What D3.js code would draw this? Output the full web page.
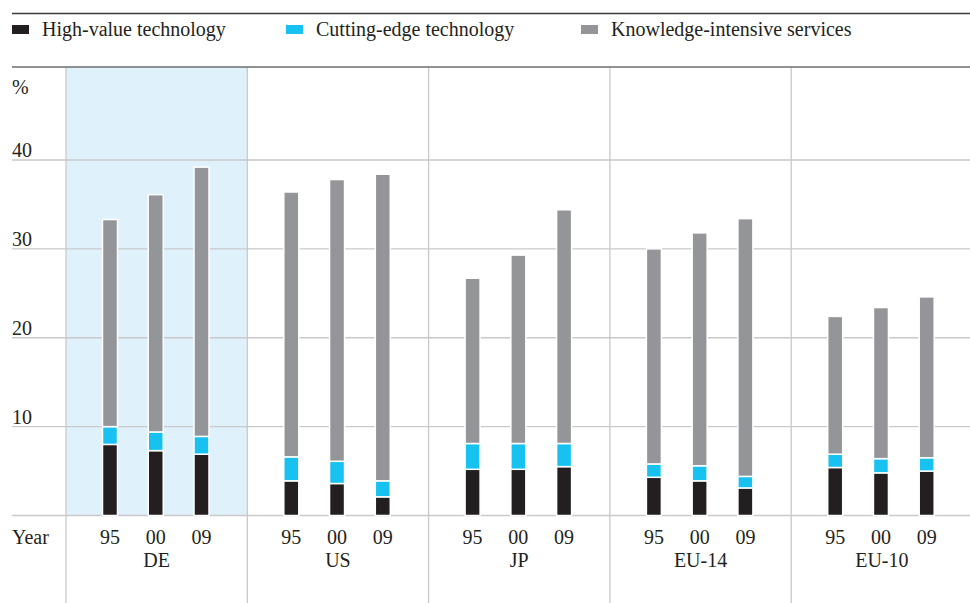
<!DOCTYPE html>
<html><head><meta charset="utf-8">
<script src="https://cdn.jsdelivr.net/npm/d3@7"></script>
<style>
html,body{margin:0;padding:0;background:#fff;}
text{font-family:"Liberation Serif",serif;fill:#231f20;}
</style></head>
<body><svg id="c" width="970" height="603"></svg>
<script>
const countries = ["DE","US","JP","EU-14","EU-10"];
const years = ["95","00","09"];
const seriesNames = ["High-value technology","Cutting-edge technology","Knowledge-intensive services"];
const seriesColors = ["#231f20","#17c1f0","#939598"];
const highValue = [[8.0,7.3,6.9],[3.9,3.6,2.1],[5.2,5.2,5.5],[4.3,3.9,3.1],[5.4,4.8,5.0]];
const cuttingEdge = [[2.0,2.1,2.0],[2.7,2.5,1.8],[2.9,2.9,2.6],[1.5,1.7,1.3],[1.5,1.6,1.5]];
const knowledge = [[23.3,26.7,30.3],[29.8,31.7,34.5],[18.6,21.2,26.3],[24.2,26.2,29.0],[15.5,17.0,18.1]];
const yTicks = [10,20,30,40];

const svg = d3.select("#c");
const x0 = d3.scaleBand().domain(countries).range([66, 972.5]);
const x1 = d3.scalePoint().domain(years).range([44, 135.5]);
const y = d3.scaleLinear().domain([0,40]).range([515.5, 160]);
const barW = 15;
const fs = 20;

svg.append("rect").attr("x", x0("DE")).attr("y", 67).attr("width", x0.bandwidth())
  .attr("height", y(0)-67).attr("fill", "#dff1fa");

svg.append("g").selectAll("line").data([0].concat(yTicks)).join("line")
  .attr("x1", 12).attr("x2", 970).attr("y1", d=>y(d)).attr("y2", d=>y(d))
  .attr("stroke", "#c9c9cb").attr("stroke-width", 1.3);

svg.append("g").selectAll("line").data(countries).join("line")
  .attr("x1", d=>x0(d)).attr("x2", d=>x0(d)).attr("y1", 67).attr("y2", 603)
  .attr("stroke", "#c9c9cb").attr("stroke-width", 1.3);

svg.append("line").attr("x1",12).attr("x2",970).attr("y1",13.5).attr("y2",13.5).attr("stroke","#3a3a3a").attr("stroke-width",1.5);
svg.append("line").attr("x1",12).attr("x2",970).attr("y1",67).attr("y2",67).attr("stroke","#6d6e71").attr("stroke-width",1.5);

const rows = [];
countries.forEach((c,ci)=>years.forEach((yr,yi)=>{
  const vals=[highValue[ci][yi],cuttingEdge[ci][yi],knowledge[ci][yi]];
  let acc=0;
  vals.forEach((v,si)=>{rows.push({c,yr,si,y0:acc,y1:acc+v});acc+=v;});
}));
svg.append("g").selectAll("rect").data(rows).join("rect")
  .attr("x", d=>x0(d.c)+x1(d.yr)-barW/2).attr("width", barW)
  .attr("y", d=>y(d.y1)).attr("height", d=>y(d.y0)-y(d.y1))
  .attr("fill", d=>seriesColors[d.si]).attr("stroke","#fff").attr("stroke-width",1.5);

svg.append("g").selectAll("text").data(yTicks).join("text")
  .attr("x", 12).attr("y", d=>y(d)-3).attr("font-size", fs).text(d=>d);
svg.append("text").attr("x",12).attr("y",94).attr("font-size",fs).text("%");

svg.append("text").attr("x",12).attr("y",543.5).attr("font-size",fs).text("Year");
countries.forEach(c=>{
  svg.append("g").selectAll("text").data(years).join("text")
    .attr("x", d=>x0(c)+x1(d)).attr("y",543.5).attr("text-anchor","middle").attr("font-size",fs).text(d=>d);
  svg.append("text").attr("x", x0(c)+x0.bandwidth()/2).attr("y",566.5).attr("text-anchor","middle").attr("font-size",fs).text(c);
});

const legX = [12, 286, 581];
const lg = svg.append("g").selectAll("g").data(seriesNames).join("g")
  .attr("transform",(d,i)=>`translate(${legX[i]},0)`);
lg.append("rect").attr("x",0).attr("y",25).attr("width",17).attr("height",9).attr("fill",(d,i)=>seriesColors[i]);
lg.append("text").attr("x",30).attr("y",35.5).attr("font-size",fs).text(d=>d);
</script></body></html>
